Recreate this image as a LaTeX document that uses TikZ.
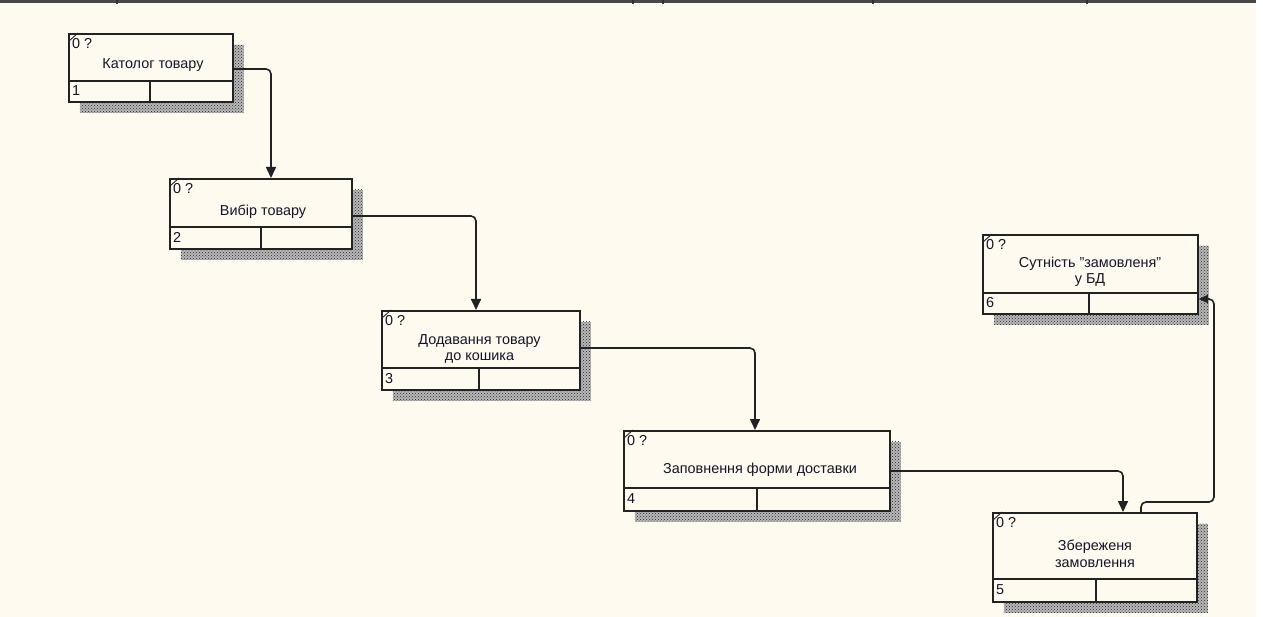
\documentclass[tikz,border=0pt]{standalone}
\usepackage{fontspec}
\setmainfont{Liberation Sans}
\usetikzlibrary{arrows.meta,patterns,shadows}
\definecolor{bg}{HTML}{FFFAEF}
\definecolor{ln}{HTML}{222222}
\definecolor{tx}{HTML}{141426}
\begin{document}
\begin{tikzpicture}[x=1pt,y=-1pt,
  actbox/.style={draw=ln, line width=1.8pt, fill=bg, anchor=north west, inner sep=0pt,
    general shadow={shadow xshift=11pt, shadow yshift=-11pt, fill=black!28},
    general shadow={shadow xshift=11pt, shadow yshift=-11pt, pattern=crosshatch dots, pattern color=black!85}},
  inner/.style={draw=ln, line width=1.6pt},
  tick/.style={draw=ln, line width=0.9pt},
  lab/.style={text=tx, font=\fontsize{14.4}{16.5}\selectfont, inner sep=0pt},
  conn/.style={draw=ln, line width=1.6pt, rounded corners=5pt, -{Triangle[length=11pt,width=10pt]}},
]
\useasboundingbox (0,0) rectangle (1263,617);
\fill[bg] (0,0) rectangle (1256,617);
\draw[line width=2.2pt, color=black!72] (0,1.5) -- (1256,1.5);
\foreach \tx in {117,633,663,873,1087} \draw[line width=1.2pt, color=black!80] (\tx,0) -- (\tx,4.5);

% boxes
\node[actbox, minimum width=164pt, minimum height=68pt] (b1) at (68,33) {};
\node[actbox, minimum width=182pt, minimum height=70pt] (b2) at (169,178) {};
\node[actbox, minimum width=198pt, minimum height=79pt] (b3) at (381,310) {};
\node[actbox, minimum width=266pt, minimum height=80pt] (b4) at (623,430) {};
\node[actbox, minimum width=204pt, minimum height=89pt] (b5) at (992,512) {};
\node[actbox, minimum width=215pt, minimum height=79pt] (b6) at (982,234) {};

% inner lines
\foreach \b/\dy/\vx in {b1/81/150, b2/227/261, b3/368/479, b4/488/757, b5/579/1096, b6/293/1089} {
  \draw[inner] (\b.west |- 0,\dy) -- (\b.east |- 0,\dy);
  \draw[inner] (\vx,\dy) -- (\b.south -| \vx,0);
  \draw[tick] ([shift={(1,8)}]\b.north west) -- ([shift={(10,0)}]\b.north west);
  \node[lab, anchor=west] (q\b) at ([shift={(4,10.5)}]\b.north west) {0 ?};
}

% numbers
\node[lab, anchor=west] (n1) at (72,91) {1};
\node[lab, anchor=west] (n2) at (173,237.5) {2};
\node[lab, anchor=west] (n3) at (385,378.5) {3};
\node[lab, anchor=west] (n4) at (627,499) {4};
\node[lab, anchor=west] (n5) at (996,590) {5};
\node[lab, anchor=west] (n6) at (986,303) {6};

% titles
\node[lab] (t1) at (153,65) {Католог товару};
\node[lab] (t2) at (263,212) {Вибір товару};
\node[lab, align=center] (t3) at (479.5,349) {Додавання товару\\до кошика};
\node[lab] (t4) at (760,470) {Заповнення форми доставки};
\node[lab, align=center] (t5) at (1095,554) {Збереженя\\замовлення};
\node[lab, align=center] (t6) at (1090,272) {Сутність "замовленя"\\у БД};

% connectors
\draw[conn] (b1.east |- 0,69) -- (271,69) -- (b2.north -| 271,0);
\draw[conn] (b2.east |- 0,216) -- (476,216) -- (b3.north -| 476,0);
\draw[conn] (b3.east |- 0,348) -- (755,348) -- (b4.north -| 755,0);
\draw[conn] (b4.east |- 0,471) -- (1123,471) -- (b5.north -| 1123,0);
\draw[conn, -{Triangle[length=9pt,width=8pt]}] (b5.north -| 1141,0) -- (1141,502) -- (1214,502) -- (1214,299) -- (b6.east |- 0,299);
\end{tikzpicture}
\end{document}
